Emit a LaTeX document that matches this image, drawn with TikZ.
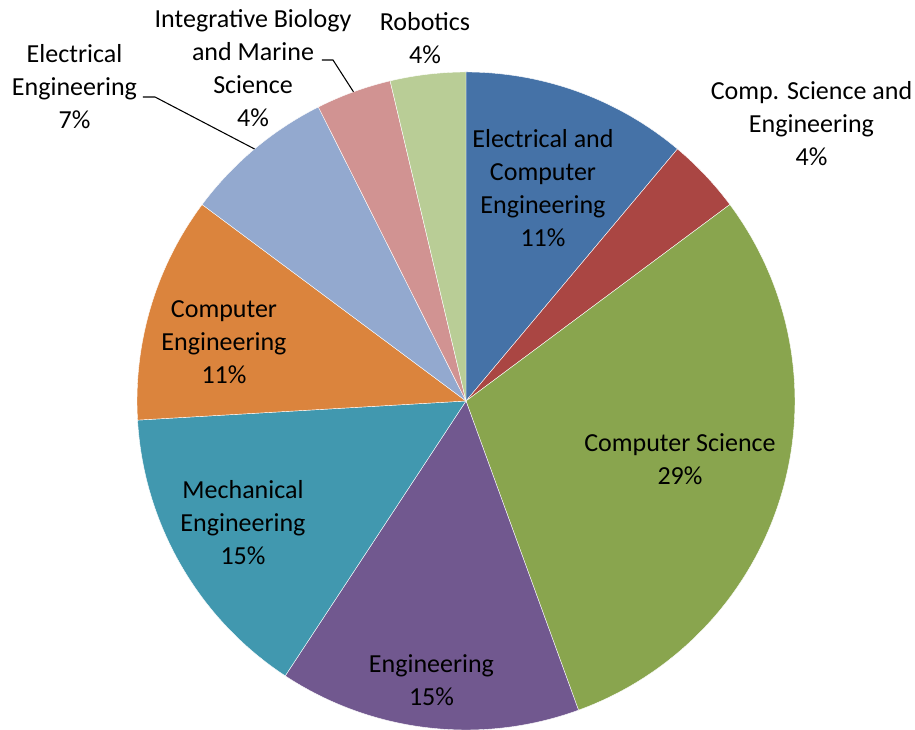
\documentclass[tikz,border=0pt]{standalone}
\usepackage{fontspec}
\setmainfont{Carlito}
\definecolor{eceblue}{HTML}{4572A7}
\definecolor{csered}{HTML}{AA4643}
\definecolor{csgreen}{HTML}{89A54E}
\definecolor{engpurple}{HTML}{71588F}
\definecolor{meteal}{HTML}{4198AF}
\definecolor{ceorange}{HTML}{DB843D}
\definecolor{eelight}{HTML}{93A9CF}
\definecolor{ibmspink}{HTML}{D19392}
\definecolor{robgreen}{HTML}{B9CD96}
\tikzset{
  slice/.style={fill=#1,draw=white,line width=0.3pt},
  lbl/.style={font=\fontsize{19.5pt}{24.75pt}\selectfont,align=center,inner sep=0pt},
  leader/.style={draw=black,line width=0.8pt}
}
\begin{document}
\begin{tikzpicture}[x=0.75pt,y=0.75pt]
  \useasboundingbox (-466,-329) rectangle (449,401);
  \def\rad{246.75pt}

  % Slices, clockwise from the top
  \foreach \col/\from/\to in {
      eceblue/90/50,
      csered/50/36.667,
      csgreen/36.667/-70,
      engpurple/-70/-123.333,
      meteal/-123.333/-176.667,
      ceorange/-176.667/-216.667,
      eelight/-216.667/-243.333,
      ibmspink/-243.333/-256.667,
      robgreen/-256.667/-270}
  {
    \path[slice=\col] (0,0) -- (\from:\rad)
      arc[start angle=\from, end angle=\to, radius=\rad] -- cycle;
  }

  % Labels
  \node[lbl] (ece)  at (77,213)      {Electrical and\\Computer\\Engineering\\11\%};
  \node[lbl] (cse)  at (345.5,277)   {Comp. Science and\\Engineering\\4\%};
  \node[lbl] (cs)   at (214,-58)     {Computer Science\\29\%};
  \node[lbl] (eng)  at (-34.5,-279)  {Engineering\\15\%};
  \node[lbl] (me)   at (-223,-122)   {Mechanical\\Engineering\\15\%};
  \node[lbl] (ce)   at (-242,59)     {Computer\\Engineering\\11\%};
  \node[lbl] (ee)   at (-391.5,314)  {Electrical\\Engineering\\7\%};
  \node[lbl] (ibms) at (-213,333)    {Integrative Biology\\and Marine\\Science\\4\%};
  \node[lbl] (rob)  at (-41,362.5)   {Robotics\\4\%};

  % Leader lines
  \coordinate (eeTip)   at (130:\rad);
  \coordinate (ibmsTip) at (110:\rad);
  \draw[leader] ([shift={(68.5,-10)}]ee.center) -- ++(12,0) -- (eeTip);
  \draw[leader] ([shift={(69,8)}]ibms.center) -- ++(11,0) -- (ibmsTip);
\end{tikzpicture}
\end{document}
